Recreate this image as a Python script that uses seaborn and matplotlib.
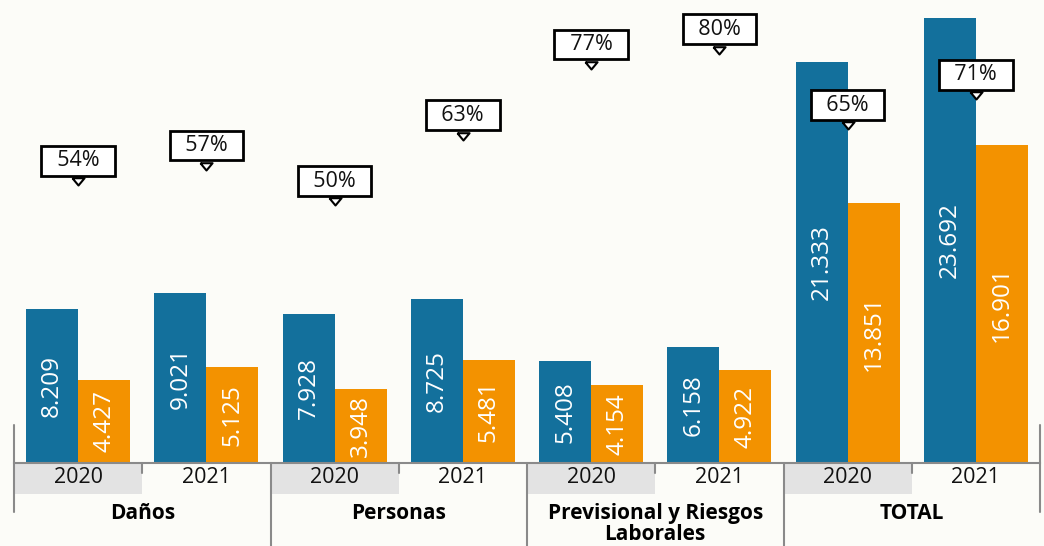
import numpy as np
import pandas as pd
import seaborn as sns
import matplotlib.pyplot as plt
from matplotlib.patches import Rectangle
from matplotlib.transforms import blended_transform_factory

# datos (en millones, separador de miles con punto)
grupos = ['Daños', 'Personas', 'Previsional y Riesgos\nLaborales', 'TOTAL']
anios = ['2020', '2021']
serie_azul = [8209, 9021, 7928, 8725, 5408, 6158, 21333, 23692]
serie_naranja = [4427, 5125, 3948, 5481, 4154, 4922, 13851, 16901]
porcentajes = [54, 57, 50, 63, 77, 80, 65, 71]

azul = '#13709C'
naranja = '#F39200'
fondo = '#FCFCF8'

sns.set_style('white')
plt.rcParams['font.family'] = ['Open Sans', 'DejaVu Sans']

slots = [f'{g} {a}' for g in grupos for a in anios]
df = pd.DataFrame({
    'slot': slots * 2,
    'valor': serie_azul + serie_naranja,
    'serie': ['azul'] * len(slots) + ['naranja'] * len(slots),
})

fig = plt.figure(figsize=(10.44, 5.46), dpi=100, facecolor=fondo)
ax = fig.add_axes([14 / 1044, 83 / 546, 1026 / 1044, 463 / 546])
ax.set_facecolor(fondo)

sns.barplot(data=df, x='slot', y='valor', hue='serie', order=slots,
            palette=[azul, naranja], width=0.81, gap=0, saturation=1,
            errorbar=None, legend=False, linewidth=0, ax=ax)

for cont, vals in zip(ax.containers, [serie_azul, serie_naranja]):
    ax.bar_label(cont, labels=[f'{v / 1000:.3f}' for v in vals], label_type='center',
                 rotation=90, color='white', fontsize=17.5)

ax.set_xlim(-0.5, 7.5)
ax.set_ylim(0, 24630)
ax.set_yticks([])
ax.set_xlabel('')
ax.set_ylabel('')
ax.set_xticks(range(len(slots)))
ax.set_xticklabels(anios * len(grupos), fontsize=15.5, color='#111111')
ax.tick_params(axis='x', length=0, pad=3)
for s in ['top', 'left', 'right']:
    ax.spines[s].set_visible(False)
ax.spines['bottom'].set_color('#8a8a8a')
ax.spines['bottom'].set_linewidth(1.5)

trans = blended_transform_factory(ax.transData, ax.transAxes)
px = 1 / 463  # un pixel en fraccion del eje

# fondo gris de los 2020
for i in range(0, len(slots), 2):
    ax.add_patch(Rectangle((i - 0.5, -31 * px), 1, 31 * px, transform=trans,
                           facecolor='#E3E3E3', edgecolor='none', clip_on=False, zorder=0))

# marcas y separadores
for i in range(len(grupos)):
    ax.plot([2 * i + 0.5] * 2, [0, -10 * px], transform=trans, color='#8a8a8a',
            lw=1.5, clip_on=False)
for k in range(len(grupos) + 1):
    x = 2 * k - 0.5
    if k in (0, len(grupos)):
        ax.plot([x, x], [38 * px, -49 * px], transform=trans, color='#8a8a8a',
                lw=1.5, clip_on=False)
    else:
        ax.plot([x, x], [0, -90 * px], transform=trans, color='#8a8a8a',
                lw=1.5, clip_on=False)

for i, g in enumerate(grupos):
    ax.text(2 * i + 0.5, -40 * px, g, transform=trans, ha='center', va='top',
            fontsize=15, fontweight='bold', color='#000000', linespacing=1.0)

# porcentajes en eje secundario
ax2 = ax.twinx()
ax2.set_ylim(-0.95, 90.6)
ax2.axis('off')
tri = [(-1, 1.2), (1, 1.2), (0, 0), (-1, 1.2)]
for i, p in enumerate(porcentajes):
    ax2.annotate(f'  {p}%  ', xy=(i, p), xytext=(0, 17.5), textcoords='offset points',
                 ha='center', va='center', fontsize=15.5, color='#111111',
                 bbox=dict(boxstyle='square,pad=0.2', fc='white', ec='black', lw=2),
                 zorder=5)
ax2.scatter(range(len(porcentajes)), porcentajes, marker=tri, s=110,
            facecolor='white', edgecolor='black', linewidths=1.5, zorder=6)

fig.savefig('out.png', dpi=100, facecolor=fondo)
